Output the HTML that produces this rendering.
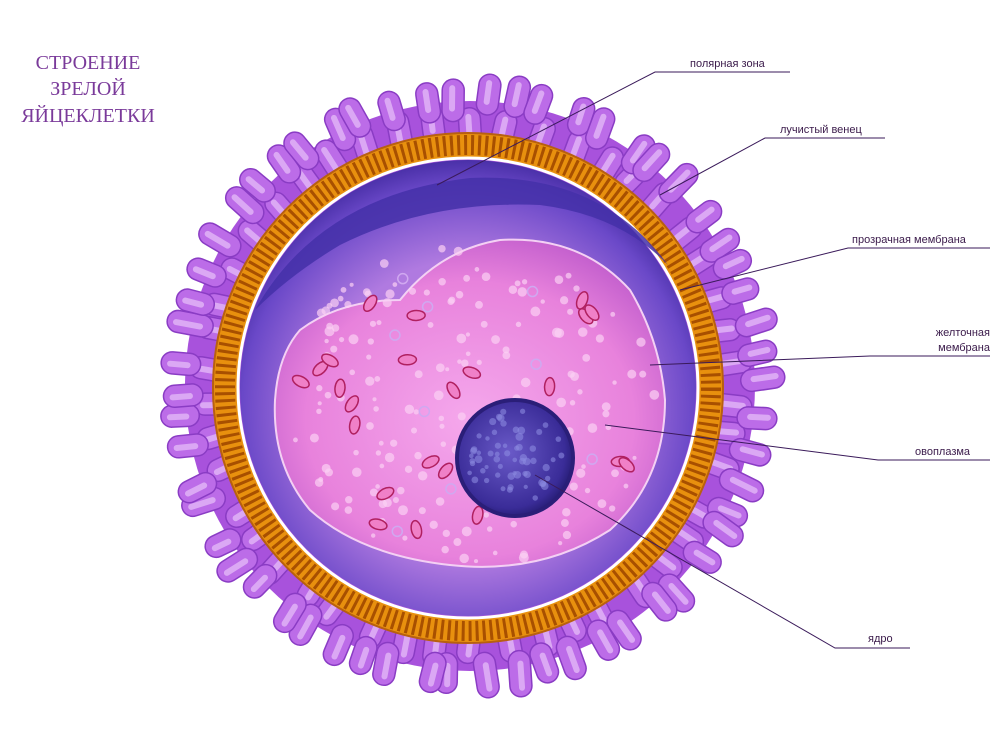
<!DOCTYPE html>
<html><head><meta charset="utf-8">
<style>
html,body{margin:0;padding:0;background:#fff;width:1000px;height:750px;overflow:hidden}
svg{display:block}
.t{font-family:"Liberation Serif",serif;fill:#7a3a9a;font-size:20px}
.l{font-family:"Liberation Sans",sans-serif;fill:#3a1a4a;font-size:11px}
</style></head><body>
<svg id="s" width="1000" height="750" viewBox="0 0 1000 750" xmlns="http://www.w3.org/2000/svg">
<defs>
<radialGradient id="ooG" cx="0.5" cy="0.55" r="0.6">
<stop offset="0" stop-color="#f5a8ec"/><stop offset="0.7" stop-color="#e882dc"/><stop offset="1" stop-color="#c05ccc"/>
</radialGradient>
<radialGradient id="inG" cx="0.5" cy="0.55" r="0.55">
<stop offset="0.6" stop-color="#b07ae0"/><stop offset="0.9" stop-color="#6a48c8"/><stop offset="1" stop-color="#4a30a8"/>
</radialGradient>
<radialGradient id="nuG" cx="0.45" cy="0.45" r="0.6">
<stop offset="0" stop-color="#6a5ac8"/><stop offset="0.8" stop-color="#3a2c98"/><stop offset="1" stop-color="#20186a"/>
</radialGradient>
</defs>
<text class="t" x="88" y="69" text-anchor="middle">СТРОЕНИЕ</text>
<text class="t" x="88" y="95" text-anchor="middle">ЗРЕЛОЙ</text>
<text class="t" x="88" y="122" text-anchor="middle">ЯЙЦЕКЛЕТКИ</text>
<circle cx="470" cy="386" r="285" fill="#a852dc"/>
<g id="cor"></g>
<circle cx="468" cy="388" r="243" fill="none" stroke="#e8900e" stroke-width="24"/>
<circle cx="468" cy="388" r="243" fill="none" stroke="#a85000" stroke-width="20" stroke-dasharray="3 4"/>
<circle cx="468" cy="388" r="255" fill="none" stroke="#b86010" stroke-width="2"/>
<circle cx="468" cy="388" r="230" fill="none" stroke="#fff" stroke-width="3"/>
<circle cx="468" cy="388" r="228" fill="url(#inG)"/>
<path d="M255,310 Q320,195 470,178 Q600,172 668,265 Q620,215 540,205 Q430,200 340,245 Q290,275 255,310Z" fill="#4430a8" opacity="0.85"/>
<path d="M300,330 Q340,300 400,300 Q440,250 500,240 Q580,235 630,290 Q660,340 665,400 Q665,480 610,530 Q540,575 450,565 Q360,555 310,510 Q272,465 275,400 Q278,355 300,330Z" fill="url(#ooG)" stroke="#f4d0f4" stroke-width="2"/>
<g id="dots"></g>
<circle cx="515" cy="458" r="58" fill="url(#nuG)" stroke="#2a1e78" stroke-width="4"/>
<g id="nd"></g>
<g stroke="#3a1a5a" stroke-width="1" fill="none">
<path d="M437,185 L655,72 L790,72"/>
<path d="M660,195 L765,138 L885,138"/>
<path d="M680,290 L848,248 L990,248"/>
<path d="M650,365 L870,356 L990,356"/>
<path d="M605,425 L878,460 L990,460"/>
<path d="M535,475 L835,648 L910,648"/>
</g>
<text class="l" x="690" y="67">полярная зона</text>
<text class="l" x="780" y="133">лучистый венец</text>
<text class="l" x="852" y="243">прозрачная мембрана</text>
<text class="l" x="990" y="336" text-anchor="end">желточная</text>
<text class="l" x="990" y="351" text-anchor="end">мембрана</text>
<text class="l" x="915" y="455">овоплазма</text>
<text class="l" x="868" y="642">ядро</text>
</svg>
<script>
var NS="http://www.w3.org/2000/svg",cx=470,cy=386;
var cor=document.getElementById("cor");
function add(p,tag,a){var e=document.createElementNS(NS,tag);for(var k in a)e.setAttribute(k,a[k]);p.appendChild(e);return e;}
var s=7;function rnd(){s=(s*9301+49297)%233280;return s/233280;}
var rows=[[264,34,46],[294,34,58]];
for(var r=0;r<2;r++){var R=rows[r][0],L=rows[r][1],n=rows[r][2];
for(var i=0;i<n;i++){var a=(i+(r?0.5:0))/n*360+(rnd()-0.5)*4;
var LL=L+(rnd()-0.5)*10,RR=R+(rnd()-0.5)*8,tilt=(rnd()-0.5)*14;
var g=add(cor,"g",{transform:"rotate("+a+" "+cx+" "+cy+") rotate("+tilt+" "+cx+" "+(cy-RR)+")"});
add(g,"rect",{x:cx-11,y:cy-RR-LL/2,width:22,height:LL+8,rx:11,fill:"#bc6ce8",stroke:"#8a3cc4","stroke-width":1.5});
add(g,"rect",{x:cx-4,y:cy-RR-LL/2+6,width:6,height:LL-8,rx:3,fill:"#e6bcf8",opacity:0.75});
}}
var d=document.getElementById("dots");
for(var i=0;i<260;i++){var x=285+rnd()*375,y=245+rnd()*320;
if(((x-470)/190)**2+((y-405)/160)**2>1)continue;
add(d,"circle",{cx:x,cy:y,r:2+rnd()*3,fill:"#fbd0f4",opacity:0.7});}
for(var i=0;i<40;i++){var x=300+rnd()*350,y=260+rnd()*290;
if(((x-470)/180)**2+((y-405)/150)**2>1)continue;
if(rnd()<0.55)add(d,"ellipse",{cx:x,cy:y,rx:5,ry:9,fill:"#f080c8",stroke:"#b02060","stroke-width":1.5,transform:"rotate("+(rnd()*180)+" "+x+" "+y+")"});
else add(d,"circle",{cx:x,cy:y,r:5,fill:"none",stroke:"#d0a8f0","stroke-width":1.5});}
var nd=document.getElementById("nd");
for(var i=0;i<60;i++){var a=rnd()*6.28,rr=Math.sqrt(rnd())*48;
add(nd,"circle",{cx:515+Math.cos(a)*rr,cy:458+Math.sin(a)*rr,r:2+rnd()*2,fill:"#8a88e0",opacity:0.6});}
</script>
</body></html>
